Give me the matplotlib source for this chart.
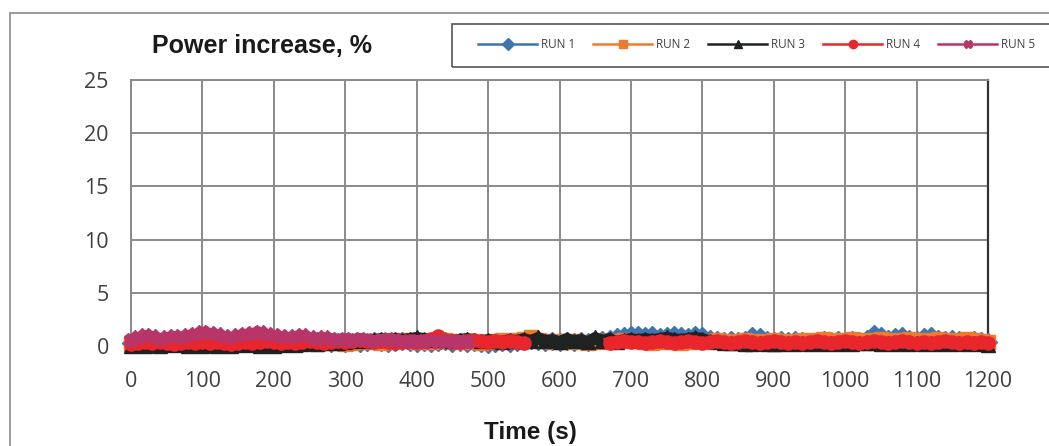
import matplotlib

matplotlib.use("Agg")
import matplotlib.pyplot as plt
import numpy as np
from matplotlib.patches import Rectangle

nan = np.nan

time_s = list(range(0, 1201, 10))

run1 = [
    0.3, 0.4, 0.5, 0.4, 0.3, 0.5, 0.4, 0.6, 0.5, 0.4, 0.5,
    0.6, 0.5, 0.4, 0.5, 0.6, 0.5, 0.4, 0.5, 0.6, 0.5,
    0.4, 0.5, 0.4, 0.3, 0.4, 0.5, 0.4, 0.3, 0.4, 0.3,
    0.4, 0.3, 0.4, 0.5, 0.4, 0.3, 0.4, 0.5, 0.4, 0.3,
    0.4, 0.3, 0.4, 0.5, 0.3, 0.4, 0.3, 0.4, 0.3, 0.2,
    0.3, 0.4, 0.3, 0.4, 0.5, 0.6, 0.5, 0.4, 0.5, 0.4,
    0.5, 0.4, 0.5, 0.4, 0.5, 0.6, 0.7, 0.8, 0.9, 1.0,
    1.0, 0.9, 1.0, 0.8, 0.9, 1.0, 0.9, 0.8, 1.0, 0.9,
    0.7, 0.6, 0.5, 0.6, 0.5, 0.6, 0.9, 0.8, 0.6, 0.5,
    0.6, 0.5, 0.6, 0.5, 0.4, 0.5, 0.6, 0.5, 0.6, 0.5,
    0.6, 0.5, 0.7, 1.1, 0.9, 0.7, 0.8, 0.9, 0.7, 0.6,
    0.8, 0.9, 0.7, 0.6, 0.7, 0.6, 0.5, 0.6, 0.5, 0.4,
]
run2 = [
    0.2, 0.3, 0.4, 0.3, 0.2, 0.3, 0.4, 0.3, 0.2, 0.3, 0.4,
    0.3, 0.4, 0.3, 0.2, 0.3, 0.4, 0.3, 0.2, 0.3, 0.4,
    0.3, 0.2, 0.3, 0.4, 0.3, 0.2, 0.3, 0.4, 0.3, 0.2,
    0.3, 0.4, 0.5, 0.4, 0.3, 0.4, 0.5, 0.6, 0.5, 0.4,
    0.5, 0.4, 0.5, 0.6, 0.5, 0.4, 0.5, 0.4, 0.3, 0.4,
    0.5, 0.6, 0.5, 0.6, 0.7, 0.8, 0.6, 0.5, 0.4, 0.5,
    0.4, 0.5, 0.4, 0.3, 0.4, 0.5, 0.4, 0.5, 0.6, 0.5,
    0.5, 0.4, 0.3, 0.4, 0.5, 0.4, 0.3, 0.4, 0.5, 0.4,
    0.5, 0.6, 0.5, 0.4, 0.5, 0.6, 0.5, 0.4, 0.5, 0.6,
    0.5, 0.4, 0.5, 0.6, 0.5, 0.6, 0.7, 0.6, 0.5, 0.6,
    0.7, 0.6, 0.5, 0.6, 0.7, 0.6, 0.5, 0.6, 0.7, 0.6,
    0.5, 0.6, 0.7, 0.6, 0.5, 0.6, 0.7, 0.6, 0.5, 0.4,
]
run3 = [
    0.0, 0.1, 0.0, 0.1, 0.0, 0.1, 0.2, 0.1, 0.0, 0.1, 0.0,
    0.1, 0.0, 0.1, 0.0, 0.1, 0.2, 0.1, 0.0, 0.1, 0.0,
    0.1, 0.2, 0.1, 0.2, 0.3, 0.2, 0.3, 0.4, 0.3, 0.4,
    0.5, 0.6, 0.5, 0.6, 0.7, 0.6, 0.7, 0.6, 0.7, 0.8,
    0.7, 0.6, 0.7, 0.6, 0.5, 0.6, 0.7, 0.6, 0.5, 0.6,
    0.5, 0.4, 0.6, 0.5, 0.7, 0.5, 0.8, 0.5, 0.6, 0.4,
    0.7, 0.5, 0.6, 0.4, 0.8, 0.5, 0.7, 0.4, 0.6, 0.7,
    0.6, 0.7, 0.6, 0.7, 0.8, 0.7, 0.6, 0.7, 0.8, 0.7,
    0.5, 0.4, 0.3, 0.3, 0.3, 0.2, 0.2, 0.3, 0.2, 0.2,
    0.2, 0.3, 0.2, 0.3, 0.2, 0.3, 0.2, 0.3, 0.2, 0.3,
    0.2, 0.3, 0.3, 0.3, 0.2, 0.3, 0.2, 0.3, 0.2, 0.3,
    0.2, 0.3, 0.2, 0.3, 0.2, 0.3, 0.2, 0.3, 0.2, 0.1,
]
run4 = [
    0.2, 0.3, 0.4, 0.3, 0.4, 0.3, 0.2, 0.3, 0.4, 0.3, 0.4,
    0.3, 0.4, 0.3, 0.2, 0.3, 0.4, 0.3, 0.4, 0.5, 0.4,
    0.3, 0.4, 0.3, 0.4, 0.5, 0.4, 0.3, 0.4, 0.5, 0.4,
    0.5, 0.6, 0.5, 0.4, 0.5, 0.4, 0.3, 0.4, 0.5, 0.4,
    0.5, 0.7, 0.9, 0.6, 0.5, 0.4, 0.5, 0.6, 0.5, 0.4,
    0.5, 0.4, 0.5, 0.4, 0.3, nan, nan, nan, nan, nan,
    nan, nan, nan, nan, nan, nan, 0.3, 0.4, 0.5, 0.4,
    0.4, 0.3, 0.4, 0.5, 0.4, 0.3, 0.4, 0.5, 0.4, 0.3,
    0.4, 0.5, 0.4, 0.3, 0.4, 0.5, 0.4, 0.3, 0.4, 0.5,
    0.4, 0.3, 0.4, 0.3, 0.4, 0.5, 0.4, 0.3, 0.4, 0.5,
    0.4, 0.3, 0.4, 0.5, 0.4, 0.3, 0.4, 0.5, 0.4, 0.3,
    0.4, 0.3, 0.4, 0.5, 0.4, 0.3, 0.4, 0.3, 0.4, 0.3,
]
run5 = [
    0.6, 0.8, 1.0, 0.9, 0.7, 0.8, 0.9, 0.8, 1.0, 1.1, 1.3,
    1.2, 1.1, 0.9, 0.8, 1.0, 1.1, 1.2, 1.3, 1.1, 1.0,
    0.9, 0.8, 0.9, 1.0, 0.8, 0.7, 0.8, 0.7, 0.6, 0.7,
    0.6, 0.7, 0.6, 0.5, 0.6, 0.7, 0.6, 0.5, 0.4, 0.5,
    0.4, 0.5, 0.4, 0.5, 0.4, 0.5, 0.4, nan, nan, nan,
] + [nan] * 70

series = [
    ("RUN 1", run1, "#3f74b0", "D"),
    ("RUN 2", run2, "#ee7a2e", "s"),
    ("RUN 3", run3, "#1e2322", "^"),
    ("RUN 4", run4, "#e8262b", "o"),
    ("RUN 5", run5, "#b8356a", "X"),
]

plt.rcParams["font.family"] = ["Open Sans", "DejaVu Sans"]

fig = plt.figure(figsize=(10.49, 4.46), dpi=100)
ax = fig.add_axes([0.1249, 0.2242, 0.8170, 0.5964])

for name, values, color, marker in series:
    ax.plot(time_s, values, color=color, linewidth=8, marker=marker,
            markersize=9.5, markeredgecolor=color, label=name, clip_on=False,
            zorder=3)

ax.set_xlim(0, 1200)
ax.set_ylim(0, 25)
ax.set_xticks(range(0, 1201, 100))
ax.set_yticks(range(0, 26, 5))
ax.grid(True, color="#8a8a8a", linewidth=1.4)
ax.tick_params(length=0, labelsize=15.5, colors="#404040")
ax.tick_params(axis="y", pad=16)
ax.tick_params(axis="x", pad=18)
for side in ("left", "top"):
    ax.spines[side].set_color("#8a8a8a")
    ax.spines[side].set_linewidth(1.4)
ax.spines["right"].set_color("#333333")
ax.spines["right"].set_linewidth(1.6)
ax.spines["bottom"].set_visible(False)

fig.text(0.145, 0.896, "Power increase, %", fontsize=18, fontweight="bold",
         family=["Liberation Sans", "DejaVu Sans"], color="#1a1a1a",
         va="center", ha="left")
fig.text(0.506, 0.031, "Time (s)", fontsize=17.5, fontweight="bold",
         family=["Liberation Sans", "DejaVu Sans"], color="#1a1a1a",
         va="center", ha="center")

legend = fig.legend(loc="center left", bbox_to_anchor=(0.4557, 0.9), ncol=5,
                    fontsize=8.5, handlelength=5.0, columnspacing=1.55,
                    handletextpad=0.3, frameon=False, borderpad=0,
                    borderaxespad=0)
for handle in legend.get_lines():
    handle.set_linewidth(1.8)
    handle.set_markersize(6)
for text in legend.get_texts():
    text.set_color("#404040")

# legend box runs off the right edge of the picture
fig.add_artist(Rectangle((452 / 1049, 1 - 67 / 446), 0.6, 43 / 446,
                         transform=fig.transFigure, fill=False,
                         edgecolor="#555555", linewidth=1.2))
fig.add_artist(Rectangle((0.0095, -0.05), 1.1, 1.02, transform=fig.transFigure,
                         fill=False, edgecolor="#888888", linewidth=1.2))

fig.savefig("out.png", dpi=100)
